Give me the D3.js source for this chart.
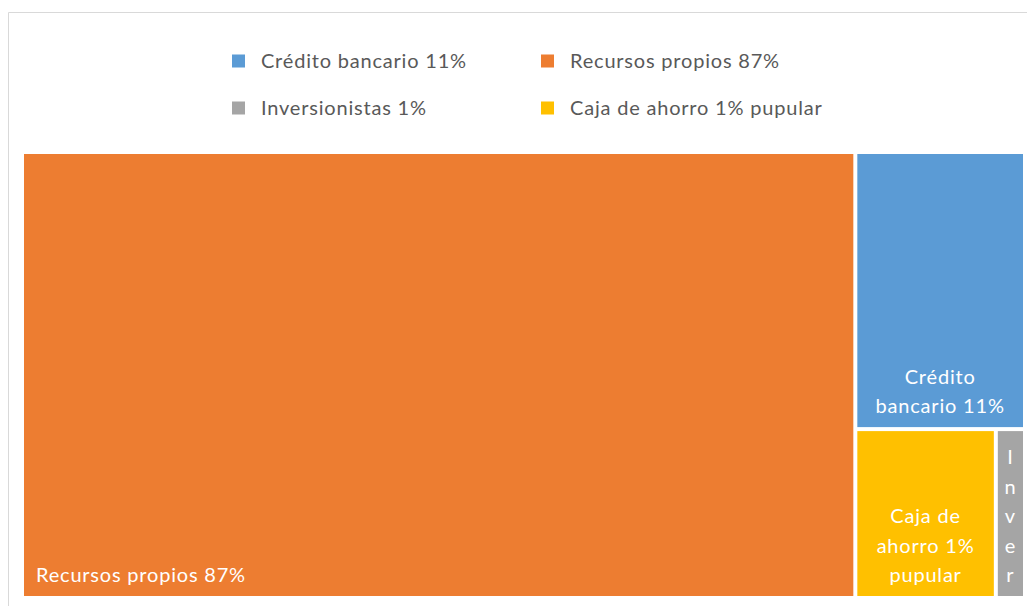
<!DOCTYPE html>
<html><head><meta charset="utf-8">
<script src="https://cdn.jsdelivr.net/npm/d3@7"></script>
<style>html,body{margin:0;padding:0;background:#fff;overflow:hidden}</style>
</head><body>
<svg id="c" width="1027" height="606"></svg>
<script>
// Data
const categories = ["Recursos propios 87%", "Crédito bancario 11%", "Caja de ahorro 1% pupular", "Inversionistas 1%"];
const values = [83.0, 10.5, 5.3, 1.1];
const colors = ["#ED7D31", "#5B9BD5", "#FFC000", "#A5A5A5"];
const legendOrder = ["Crédito bancario 11%", "Recursos propios 87%", "Inversionistas 1%", "Caja de ahorro 1% pupular"];

const W = 1027, H = 606;
const svg = d3.select("#c");
const FONT = "Lato, 'Open Sans', sans-serif";
const FS = 20, LS = 0.8;

// chart border (top & left visible)
svg.append("path").attr("d", `M8.5,${H} V12.5 H${W}`).attr("fill", "none").attr("stroke", "#d9d9d9").attr("stroke-width", 1);

const color = d3.scaleOrdinal().domain(categories).range(colors);

// Legend
const legX = [232, 541], legY = [61, 108];
legendOrder.forEach((name, i) => {
  const g = svg.append("g").attr("transform", `translate(${legX[i % 2]},${legY[Math.floor(i / 2)]})`);
  g.append("rect").attr("x", 0).attr("y", -6.5).attr("width", 13).attr("height", 13).attr("fill", color(name));
  g.append("text").attr("x", 29).attr("y", 0).attr("dy", "0.35em")
    .attr("font-family", FONT).attr("font-size", FS).attr("letter-spacing", LS).attr("fill", "#595959").text(name);
});

// Treemap
const root = d3.hierarchy({children: categories.map((c, i) => ({name: c, value: values[i]}))})
  .sum(d => d.value || 0).sort((a, b) => b.value - a.value);
d3.treemap().tile(d3.treemapSquarify).size([999, 442]).paddingInner(4).round(false)(root);

const map = svg.append("g").attr("transform", "translate(24,154)");
const leaves = map.selectAll("g").data(root.leaves()).join("g");
leaves.append("rect")
  .attr("x", d => d.x0).attr("y", d => d.y0)
  .attr("width", d => d.x1 - d.x0).attr("height", d => d.y1 - d.y0)
  .attr("fill", d => color(d.data.name));

// measuring helper
const meas = svg.append("text").attr("font-family", FONT).attr("font-size", FS).attr("letter-spacing", LS).attr("visibility", "hidden");
function tw(s) { meas.text(s); return meas.node().getComputedTextLength(); }

const LH = 29.5, PADX = 12, PADB = 14;
leaves.each(function (d) {
  const h = d.y1 - d.y0;
  const maxW = d.x1 - d.x0 - 2 * PADX;
  const words = d.data.name.split(" ");
  let lines = [], cur = "";
  words.forEach(word => {
    const test = cur ? cur + " " + word : word;
    if (tw(test) <= maxW) { cur = test; return; }
    if (cur) { lines.push(cur); cur = ""; }
    if (tw(word) <= maxW) { cur = word; return; }
    for (const ch of word) {
      if (cur === "" || tw(cur + ch) <= maxW) cur += ch;
      else { lines.push(cur); cur = ch; }
    }
  });
  if (cur) lines.push(cur);
  const maxLines = Math.max(1, Math.floor((h - 10) / LH));
  lines = lines.slice(0, maxLines);
  const single = lines.length === 1;
  const g = d3.select(this);
  const n = lines.length;
  lines.forEach((ln, i) => {
    g.append("text")
      .attr("x", single ? d.x0 + PADX : (d.x0 + d.x1) / 2)
      .attr("y", d.y1 - PADB - (n - 1 - i) * LH)
      .attr("text-anchor", single ? "start" : "middle")
      .attr("font-family", FONT).attr("font-size", FS).attr("letter-spacing", LS).attr("fill", "#fff").text(ln);
  });
});
meas.remove();
</script>
</body></html>
